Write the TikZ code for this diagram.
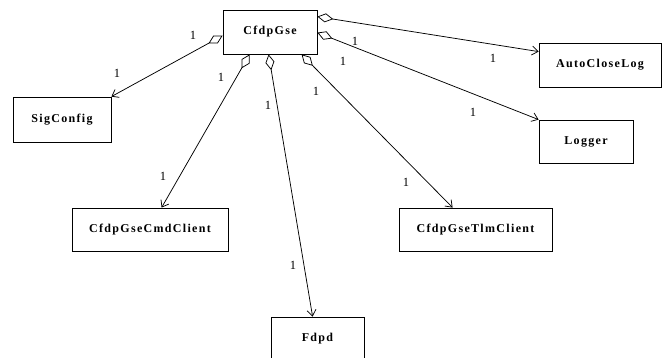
\documentclass[tikz,border=0pt]{standalone}
\usepackage{fontspec}
\setmainfont{Liberation Serif}
\newfontfamily\classfont[LetterSpace=11]{Liberation Serif}
\usetikzlibrary{arrows.meta,calc}
\tikzset{
  classbox/.style={draw=black, line width=0.8pt, fill=white, inner sep=0pt,
    minimum height=44pt, font=\classfont\bfseries\fontsize{12}{14}\selectfont},
  mult/.style={font=\fontsize{12.5}{14}\selectfont, inner sep=0pt},
  aggr/.style={line width=0.75pt,
    {Diamond[open, length=16pt, width=9pt, line width=0.75pt]}-{Straight Barb[length=6pt, width=9pt, line width=0.75pt]}}
}
\begin{document}
\begin{tikzpicture}[x=1pt, y=-1pt]
\useasboundingbox (0,0) rectangle (662,358);
\fill[white] (0,0) rectangle (662,358);

% classes
\node[classbox, minimum width=94pt]  (gse)  at (270,32)    {CfdpGse};
\node[classbox, minimum width=98pt, minimum height=45pt] (sig) at (62,119.5) {SigConfig};
\node[classbox, minimum width=122pt] (acl)  at (600,65)    {AutoCloseLog};
\node[classbox, minimum width=94pt, minimum height=43pt]  (log) at (586,141.5) {Logger};
\node[classbox, minimum width=156pt, minimum height=43pt] (cmd) at (150,229.5) {CfdpGseCmdClient};
\node[classbox, minimum width=153pt, minimum height=43pt] (tlm) at (475.5,229.5) {CfdpGseTlmClient};
\node[classbox, minimum width=93pt]  (fdpd) at (317.5,339)  {Fdpd};

% aggregations
\draw[aggr] ($(gse.north west)+(0,26)$) -- (sig.north east);
\draw[aggr] ($(gse.south west)+(27,0)$) -- ($(cmd.north west)+(90,0)$);
\draw[aggr] ($(gse.south west)+(46,0)$) -- ($(fdpd.north west)+(42,0)$);
\draw[aggr] ($(gse.south west)+(79,0)$) -- ($(tlm.north west)+(54,0)$);
\draw[aggr] ($(gse.north east)+(0,7)$)  -- ($(acl.north west)+(0,9)$);
\draw[aggr] ($(gse.north east)+(0,23)$) -- (log.north west);

% multiplicities
\node[mult] (m1)  at (193,35)  {1};
\node[mult] (m2)  at (117,73)  {1};
\node[mult] (m3)  at (221,77)  {1};
\node[mult] (m4)  at (163,176) {1};
\node[mult] (m5)  at (268,105) {1};
\node[mult] (m6)  at (293,265) {1};
\node[mult] (m7)  at (316,91)  {1};
\node[mult] (m8)  at (406,182) {1};
\node[mult] (m9)  at (343,61)  {1};
\node[mult] (m10) at (473,112) {1};
\node[mult] (m11) at (355,41)  {1};
\node[mult] (m12) at (493,58)  {1};
\end{tikzpicture}
\end{document}
